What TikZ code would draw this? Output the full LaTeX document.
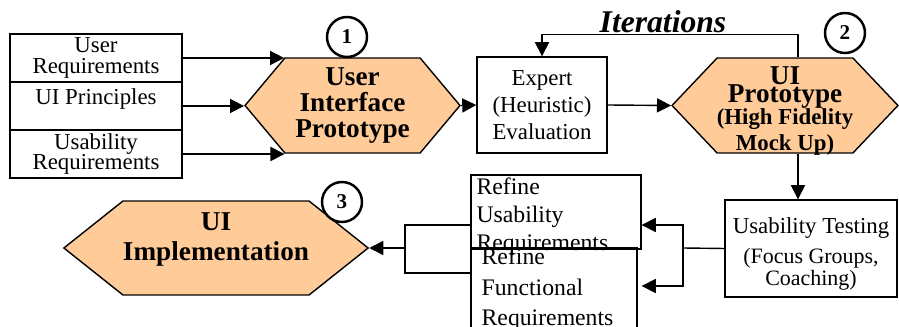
\documentclass[tikz,border=0pt]{standalone}
\usepackage{fontspec}
\setmainfont{Liberation Serif}
\usetikzlibrary{shapes.symbols,arrows.meta,calc}
\definecolor{peach}{HTML}{FFCC99}
\tikzset{
    box/.style={draw, line width=0.8pt, inner sep=0pt, align=center,
        font=\fontsize{13}{15.3}\selectfont},
    hexa/.style={shape=signal, signal to=east and west, draw, fill=peach,
        line width=0.8pt, inner sep=0pt, align=center,
        font=\bfseries\fontsize{15.5}{15}\selectfont},
    num/.style={circle, draw, fill=white, line width=1.4pt, minimum size=0.8cm,
        inner sep=0pt, font=\bfseries\fontsize{12}{12}\selectfont},
    arr/.style={line width=0.8pt, -{Triangle[length=8pt,width=8pt]}},
    ln/.style={line width=0.8pt}
}
\begin{document}
\begin{tikzpicture}[x=0.02cm, y=-0.02cm]
        \clip(0, 0) rectangle (899, 327);

        \node[box, minimum width=3.44cm, minimum height=0.96cm, font=\fontsize{13}{11.5}\selectfont] (ureq) at(96, 58){User\\Requirements};
        \node[box, minimum width=3.44cm, minimum height=0.96cm] (uip) at(96, 106){};
        \node[font=\fontsize{13}{15}\selectfont] (uiptext) at(96, 99){UI Principles};
        \node[box, minimum width=3.44cm, minimum height=0.96cm, font=\fontsize{13}{11.5}\selectfont] (usreq) at(96, 154){Usability\\Requirements};

        \node[hexa, minimum width=4.3cm, minimum height=1.9cm, signal pointer angle=100] (hexone) at(352.5, 105.5){User\\Interface\\Prototype};
        \node[num] (numone) at(347, 37){1};

        \draw[arr](ureq.east) to (ureq.east -| hexone.north west);
        \draw[arr](uip.east) to (uip.east -| hexone.west);
        \draw[arr](usreq.east) to (usreq.east -| hexone.south west);

        \node[box, minimum width=2.6cm, minimum height=1.92cm] (expert) at(542, 105){Expert\\(Heuristic)\\Evaluation};
        \draw[arr](hexone.east) to (expert.west);

        \node[hexa, minimum width=4.52cm, minimum height=1.9cm, signal pointer angle=93] (hextwo) at(785, 105.5){};
        \node[align=center, inner sep=0pt, font=\bfseries\fontsize{15.5}{15}\selectfont] (hextwotext) at(785, 111){UI\\[-4.5pt]Prototype\\[-3pt]{\fontsize{13}{12}\selectfont(High Fidelity}\\[0pt]{\fontsize{13}{12}\selectfont Mock Up)}};
        \node[num] (numtwo) at(845, 33){2};
        \draw[arr](expert.east) to (hextwo.west);

        \node[font=\bfseries\itshape\fontsize{18}{18}\selectfont] (iter) at(663, 22){Iterations};
        \draw[arr]([xshift=0.26cm]hextwo.north) -- ++(0, -23) -| (expert.north);

        \node[box, minimum width=3.44cm, minimum height=1.94cm] (utest) at(811, 248.5){};
        \node[align=center, inner sep=0pt, font=\fontsize{13}{15.3}\selectfont] (utesttext) at(811, 254){Usability Testing\\[1.5pt]{\fontsize{12.5}{14}\selectfont(Focus Groups,}\\[-3pt]{\fontsize{12.5}{14}\selectfont Coaching)}};
        \draw[arr]([xshift=0.26cm]hextwo.south) to ([xshift=0.26cm]hextwo.south |- utest.north);

        \node[box, minimum width=3.4cm, minimum height=1.48cm] (rusab) at(556, 212){};
        \node[box, minimum width=3.32cm, minimum height=1.84cm] (rfunc) at(554, 294){};
        \node[anchor=north west, inner sep=0.5pt, align=left, font=\fontsize{13.5}{16}\selectfont] (rusabtext) at([xshift=0.1cm, yshift=-0.04cm]rusab.north west){Refine\\Usability\\Requirements};
        \node[anchor=north west, inner sep=0pt, align=left, font=\fontsize{13.5}{17.5}\selectfont] (rfunctext) at([xshift=0.22cm]rfunc.north west){Refine\\Functional\\Requirements};

        \coordinate (split) at(683, 248);
        \draw[ln](utest.west) to (split);
        \draw[arr](split) |- ([yshift=-0.26cm]rusab.east);
        \draw[arr](split) |- ([yshift=-0.26cm]rusab.east |- 0, 273);

        \node[hexa, minimum width=5.88cm, minimum height=1.88cm, signal pointer angle=77, text depth=0.45cm] (hexthree) at(216, 248){UI\\[2pt]Implementation};
        \node[num] (numthree) at(342, 202){3};

        \coordinate (merge) at(405, 248);
        \draw[ln]([yshift=-0.26cm]rusab.west) -| (merge);
        \draw[ln](rfunc.west |- 0, 273) -| (merge);
        \draw[arr](merge) to (hexthree.east);
    \end{tikzpicture}
\end{document}
